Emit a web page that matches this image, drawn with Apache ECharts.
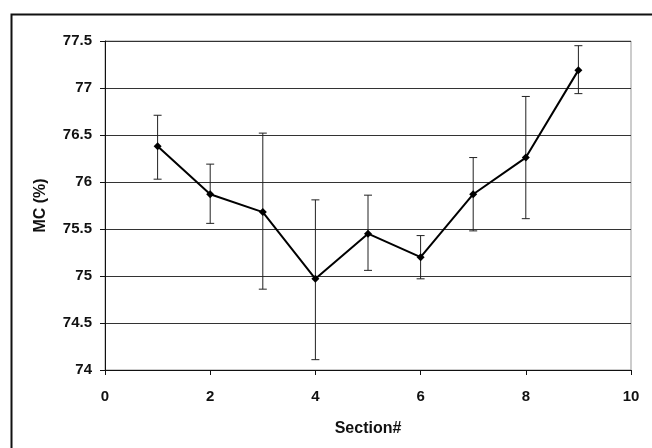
<!DOCTYPE html>
<html>
<head>
<meta charset="utf-8">
<script src="https://cdn.jsdelivr.net/npm/echarts@6/dist/echarts.min.js"></script>
<style>html,body{margin:0;padding:0;background:#fff;}#c{width:652px;height:448px;}</style>
</head>
<body>
<div id="c"></div>
<script>
const sections = [1, 2, 3, 4, 5, 6, 7, 8, 9];
const mcMean = [76.38, 75.87, 75.68, 74.97, 75.45, 75.20, 75.87, 76.26, 77.19];
const mcLow  = [76.03, 75.56, 74.86, 74.11, 75.06, 74.97, 75.48, 75.61, 76.94];
const mcHigh = [76.71, 76.19, 76.52, 75.81, 75.86, 75.43, 76.26, 76.91, 77.45];

const lineData = sections.map((s, i) => [s, mcMean[i]]);
const errData = sections.map((s, i) => [s, mcLow[i], mcHigh[i]]);
const font = '"Liberation Sans", Arial, sans-serif';

const chart = echarts.init(document.getElementById('c'), null, {renderer: 'canvas'});
chart.setOption({
  animation: false,
  backgroundColor: '#fff',
  graphic: [{
    type: 'rect', left: 9, top: 12, shape: {width: 680, height: 480},
    style: {fill: 'none', stroke: '#111', lineWidth: 2}, silent: true
  }],
  grid: {left: 105, right: 21, top: 41, bottom: 78, show: true, borderColor: '#999', borderWidth: 1},
  xAxis: {
    type: 'value', min: 0, max: 10, interval: 2,
    name: 'Section#', nameLocation: 'middle', nameGap: 51,
    nameTextStyle: {fontFamily: font, fontWeight: 'bold', fontSize: 16, color: '#111'},
    axisLine: {show: true, lineStyle: {color: '#111', width: 1}},
    axisTick: {show: true, inside: false, length: 5, lineStyle: {color: '#111'}},
    axisLabel: {fontFamily: font, fontWeight: 'bold', fontSize: 15, color: '#111', margin: 19},
    splitLine: {show: false}
  },
  yAxis: {
    type: 'value', min: 74, max: 77.5, interval: 0.5,
    name: 'MC (%)', nameLocation: 'middle', nameGap: 56, nameRotate: 90,
    nameTextStyle: {fontFamily: font, fontWeight: 'bold', fontSize: 16, color: '#111'},
    axisLine: {show: true, lineStyle: {color: '#111', width: 1}},
    axisTick: {show: true, inside: false, length: 5, lineStyle: {color: '#111'}},
    axisLabel: {fontFamily: font, fontWeight: 'bold', fontSize: 15, color: '#111', margin: 13},
    splitLine: {show: true, lineStyle: {color: '#333', width: 1}}
  },
  series: [
    {
      type: 'custom',
      data: errData,
      z: 2,
      renderItem: function (params, api) {
        const x = api.value(0);
        const lo = api.coord([x, api.value(1)]);
        const hi = api.coord([x, api.value(2)]);
        const w = 4;
        const st = {stroke: '#222', lineWidth: 1};
        return {
          type: 'group',
          children: [
            {type: 'line', shape: {x1: lo[0], y1: lo[1], x2: hi[0], y2: hi[1]}, style: st},
            {type: 'line', shape: {x1: lo[0] - w, y1: lo[1], x2: lo[0] + w, y2: lo[1]}, style: st},
            {type: 'line', shape: {x1: hi[0] - w, y1: hi[1], x2: hi[0] + w, y2: hi[1]}, style: st}
          ]
        };
      }
    },
    {
      type: 'line',
      data: lineData,
      z: 3,
      symbol: 'diamond',
      symbolSize: 8,
      itemStyle: {color: '#000'},
      lineStyle: {color: '#000', width: 2}
    }
  ]
});
</script>
</body>
</html>
